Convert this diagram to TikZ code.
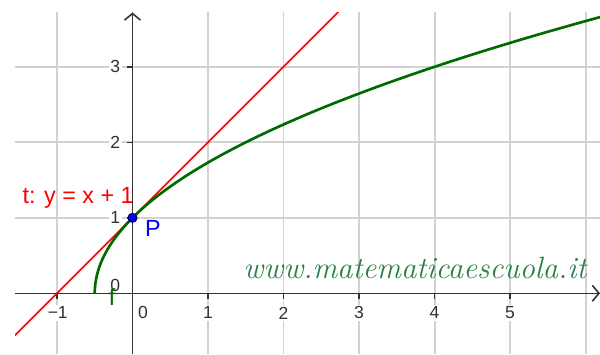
\documentclass[tikz,border=0pt]{standalone}
\usepackage{fontspec}
\setsansfont{Liberation Sans}
\usetikzlibrary{arrows.meta}
\definecolor{gridgray}{RGB}{210,210,210}
\definecolor{axisgray}{RGB}{50,50,50}
\definecolor{curvegreen}{RGB}{0,105,0}
\definecolor{sitegreen}{RGB}{40,128,72}
\tikzset{
    gridline/.style = {draw=gridgray, line width=0.75pt},
    axis/.style = {draw=axisgray, line width=0.6pt, -{Straight Barb[length=2.5pt,width=6pt]}},
    tick/.style = {draw=axisgray, line width=0.6pt},
    ticklbl/.style = {font=\sffamily\fontsize{6.6}{7}\selectfont, text=axisgray, fill=white, inner sep=0.6pt},
    curve/.style = {draw=curvegreen, line width=1pt},
    tangent/.style = {draw=red, line width=0.6pt},
    dot/.style = {circle, draw=black!60!blue, line width=0.4pt, fill=blue, inner sep=0pt, minimum size=3.4pt},
    lbl/.style = {font=\sffamily\fontsize{8.8}{10}\selectfont, inner sep=0pt}
}

\begin{document}
\begin{tikzpicture}
        \useasboundingbox (-1.755,-0.804) rectangle (6.192,3.885);
        
        % Grid
        \foreach \gx in {-1,...,6}
            \path [gridline] (\gx,-0.804) -- (\gx,3.726);
        \foreach \gy in {1,2,3}
            \path [gridline] (-1.556,\gy) -- (6.192,\gy);
        
        % Axes
        \coordinate (xstart) at (-1.556,0);
        \coordinate (xend) at (6.192,0);
        \coordinate (ystart) at (0,-0.804);
        \coordinate (yend) at (0,3.72);
        \path [axis] (xstart) -- (xend);
        \path [axis] (ystart) -- (yend);
        
        % Ticks
        \foreach \gx in {-1,1,2,3,4,5}
            \path [tick] (\gx,0) -- (\gx,-0.07);
        \foreach \gy in {1,2,3}
            \path [tick] (0,\gy) -- (-0.07,\gy);
        
        % Tick labels
        \node [ticklbl] (xm1) at (-0.99,-0.26) {−1};
        \node [ticklbl] (x0) at (0.14,-0.26) {0};
        \foreach \gx in {1,...,5}
            \node [ticklbl] (x\gx) at (\gx,-0.26) {\gx};
        \node [ticklbl] (y0) at (-0.23,0.11) {0};
        \foreach \gy in {1,2,3}
            \node [ticklbl] (y\gy) at (-0.23,\gy) {\gy};
        
        % Watermark
        \node [text=sitegreen, font=\itshape\fontsize{11.6}{13}\selectfont, inner sep=0pt] (site) at (3.74,0.33) {www.matematicaescuola.it};
        
        % Tangent line t
        \begin{scope}
            \clip (-1.556,-0.804) rectangle (6.192,3.726);
            \coordinate (tstart) at (-1.7,-0.7);
            \coordinate (tend) at (2.9,3.9);
            \path [tangent] (tstart) -- (tend);
            
            % Function f
            \path [curve] plot [domain=0:3.7, samples=120, smooth] ({(\x*\x-1)/2},\x);
        \end{scope}
        
        % Labels
        \node [lbl, text=red] (tlbl) at (-0.72,1.26) {t: y = x + 1};
        \node [lbl, text=curvegreen] (flbl) at (-0.27,-0.05) {f};
        
        % Point P
        \node [dot] (P) at (0,1) {};
        \node [lbl, text=blue, anchor=west] (plbl) at (0.16,0.86) {P};
        
    \end{tikzpicture}
\end{document}
